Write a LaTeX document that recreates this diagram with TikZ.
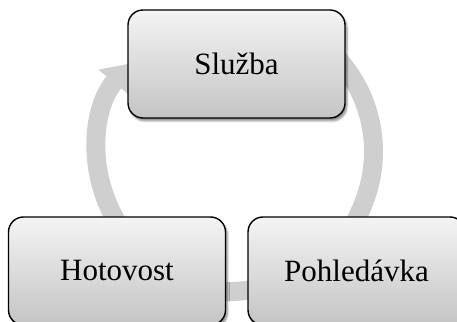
\documentclass[tikz,border=0pt]{standalone}
\usepackage{fontspec}
\setmainfont{Liberation Serif}
\usetikzlibrary{arrows.meta,shadows.blur}
\definecolor{ringgray}{HTML}{CFCFCF}
\definecolor{boxtop}{HTML}{F4F4F4}
\definecolor{boxbot}{HTML}{C4C4C4}
\tikzset{
  cyclebox/.style={draw=black, line width=1.4pt, rounded corners=15pt,
    minimum width=217pt, minimum height=108pt, inner sep=0pt,
    top color=boxtop, bottom color=boxbot,
    blur shadow={shadow xshift=2pt, shadow yshift=-3pt, shadow blur steps=6, shadow opacity=45},
    font=\fontsize{31}{36}\selectfont},
  ringarc/.style={draw=ringgray, line width=19pt, -{Triangle[width=38pt,length=24pt]}}
}
\begin{document}
\begin{tikzpicture}[x=1pt,y=1pt]
\clip (0,0) rectangle (457,321);
\coordinate (c) at (235.5,169.5);
\draw[ringarc] ([shift={(215:138)}]c) arc[start angle=215,end angle=140.5,radius=138];
\draw[ringarc] ([shift={(45:138)}]c) arc[start angle=45,end angle=-50,radius=138];
\draw[ringarc] ([shift={(-60:138)}]c) arc[start angle=-60,end angle=-112,radius=138];
\node[cyclebox] (s) at (236.5,257) {Služba};
\node[cyclebox] (h) at (117,50) {Hotovost};
\node[cyclebox] (p) at (356.5,50) {Pohledávka};
\end{tikzpicture}
\end{document}
